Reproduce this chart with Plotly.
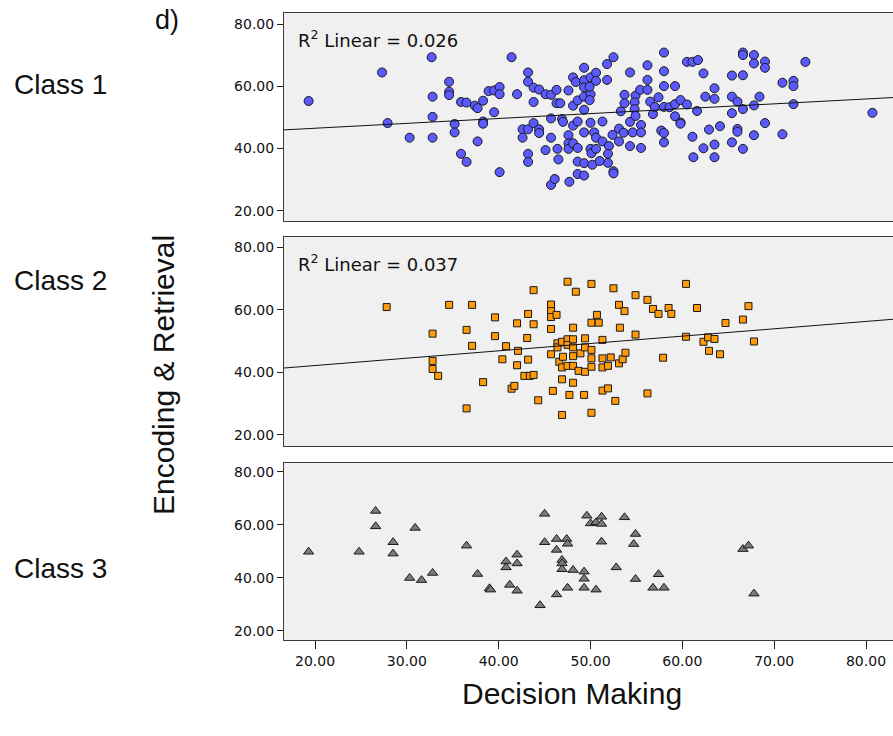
import plotly.graph_objects as go

# ---------------- data ----------------
c1_x = [19.3, 27.3, 27.9, 30.3, 32.7, 32.8, 32.8, 32.8, 34.6, 34.6, 34.6, 35.2, 35.2, 35.9, 35.9, 36.5,
        36.5, 37.4, 37.7, 37.7, 38.3, 38.3, 38.3, 38.9, 39.5, 39.5,
        40.1, 40.1, 40.1, 41.4, 42.0, 42.6, 43.2, 42.6, 43.2, 43.2, 43.2, 43.2, 43.8, 43.8, 43.8, 44.4,
        44.4, 44.4,
        45.1, 45.1, 45.7, 45.7, 45.7, 45.7, 46.1, 46.3, 46.3, 46.4, 46.7, 46.5, 46.9, 47.0, 47.6, 47.6,
        47.6, 47.6, 47.7, 48.1, 48.1, 48.1, 48.1, 48.4, 48.6, 48.6, 48.6, 48.6, 48.6, 49.3, 49.3, 49.3,
        49.3, 49.3, 49.3, 49.3, 49.3,
        50.0, 50.0, 50.6, 50.6, 50.0, 51.3, 50.4, 50.6, 51.3, 50.0, 50.1, 50.6, 52.0, 51.9, 51.9, 50.2,
        51.0, 52.5, 52.5, 51.8, 52.5, 51.8, 53.7, 53.3, 53.1, 53.1, 53.6, 54.3, 54.3, 54.3, 54.6, 54.9,
        54.8, 54.8, 54.9, 49.9, 49.9, 53.7, 52.4,
        55.5, 55.5, 55.5, 55.4, 56.2, 56.2, 56.2, 56.5, 56.8, 57.4, 58.0, 58.0, 58.0, 58.0, 57.7, 58.0,
        58.0, 58.6, 59.2, 59.2, 59.2, 59.8, 59.8, 59.8, 57.0,
        60.5, 60.5, 61.1, 61.7, 62.3, 61.6, 61.1, 61.2, 62.3, 62.9, 63.5, 63.5, 62.5, 63.5, 63.5, 64.1,
        65.4, 65.4, 65.4, 65.4, 66.0, 66.0, 66.0, 66.6, 66.6, 66.6, 66.6, 66.6, 67.8, 67.8, 67.8, 67.8,
        68.4, 69.0, 69.0, 69.0, 70.9, 70.9, 72.1, 72.1, 72.1, 73.4, 80.7]
c1_y = [55.3, 64.5, 48.2, 43.5, 69.4, 56.7, 50.2, 43.5, 61.5, 58.3, 57.2, 47.9, 45.2, 55.0, 38.3, 35.7,
        54.8, 53.8, 53.0, 42.3, 55.4, 48.7, 48.0, 58.5, 58.7, 51.7,
        59.8, 57.5, 32.4, 69.4, 57.5, 46.2, 46.2, 43.5, 64.5, 61.5, 38.3, 35.7, 59.6, 55.0, 48.2, 46.2,
        45.0, 59.0,
        57.5, 39.5, 57.3, 49.7, 43.5, 28.3, 30.2, 58.9, 54.6, 39.9, 54.6, 36.5, 49.5, 48.6, 58.7, 44.3,
        41.7, 39.9, 29.3, 62.9, 53.8, 47.4, 41.7, 61.4, 55.5, 48.7, 40.2, 35.8, 31.8, 66.0, 62.0, 59.7,
        56.7, 52.5, 45.2, 35.3, 31.3,
        62.9, 57.5, 64.4, 61.8, 48.3, 48.7, 45.2, 43.5, 42.3, 39.9, 38.5, 39.9, 40.8, 38.3, 35.4, 34.8,
        36.0, 32.7, 32.0, 67.2, 69.4, 62.1, 57.3, 52.0, 46.4, 42.3, 45.1, 64.5, 48.6, 40.8, 45.2, 57.0,
        54.9, 52.7, 50.5, 59.9, 55.6, 54.6, 44.4,
        47.6, 45.2, 40.2, 58.9, 66.8, 62.1, 58.9, 55.1, 51.1, 56.5, 70.9, 64.9, 60.1, 53.4, 45.8, 45.0,
        42.0, 53.3, 60.1, 54.3, 50.4, 55.6, 48.4, 48.0, 53.4,
        54.2, 67.9, 67.9, 68.5, 64.2, 52.1, 43.8, 37.2, 40.1, 46.1, 59.4, 56.0, 56.7, 41.3, 37.2, 47.2,
        63.5, 56.7, 51.4, 42.0, 55.1, 46.3, 45.4, 70.9, 70.1, 63.6, 52.7, 39.9, 70.1, 67.4, 53.9, 44.3,
        56.7, 68.0, 66.0, 48.2, 61.2, 44.6, 61.8, 60.1, 54.3, 67.9, 51.5]

c2_x = [27.8, 32.8, 32.8, 32.8, 33.4, 34.6, 36.5, 36.5, 37.1, 37.1, 38.3, 39.6, 39.6, 40.4, 40.8, 41.4,
        41.7, 42.0, 42.0, 42.1, 43.1, 43.2, 43.2, 43.8, 43.8, 42.8, 43.4, 43.8, 44.3,
        45.7, 45.7, 45.7, 46.3, 45.7, 45.7, 45.9,
        46.4, 46.4, 46.9, 46.6, 47.0, 46.9, 46.9, 46.9, 47.5, 47.5, 47.5, 48.1, 48.1, 47.5, 48.1, 48.1,
        48.1, 48.1, 47.7, 48.4, 48.7, 48.9, 49.4, 49.4, 49.4, 49.3,
        50.1, 50.1, 50.7, 50.9, 50.1, 50.1, 50.1, 50.1, 51.3, 51.3, 51.3, 51.3, 51.9, 51.9, 52.2, 52.5,
        52.7, 53.1, 53.5, 53.8, 53.1, 53.7, 53.2, 54.9, 54.9, 56.2, 56.8, 57.4, 58.5, 58.8, 60.4, 61.6,
        57.9, 56.2, 60.4, 62.3, 62.8, 63.5, 62.9, 64.1, 64.7, 66.6, 67.2, 67.8]
c2_y = [60.9, 52.4, 43.7, 41.1, 38.9, 61.6, 53.6, 28.5, 61.6, 48.5, 36.9, 57.6, 51.6, 44.2, 48.4, 34.8,
        35.7, 55.7, 42.3, 46.9, 51.0, 58.7, 44.1, 66.3, 55.4, 38.9, 38.9, 39.2, 31.1,
        61.7, 59.6, 57.7, 58.4, 53.9, 45.8, 34.1,
        49.3, 48.0, 49.8, 43.4, 45.0, 41.6, 37.8, 26.4, 69.0, 50.6, 48.8, 50.6, 48.0, 42.1, 54.3, 45.2,
        42.1, 36.7, 32.8, 65.8, 40.5, 46.1, 50.9, 48.0, 40.2, 32.8,
        68.3, 55.9, 58.4, 55.9, 47.2, 44.5, 41.8, 27.1, 50.4, 44.5, 41.6, 34.2, 34.9, 42.1, 44.8, 66.9,
        30.9, 42.9, 44.2, 46.3, 61.6, 59.6, 54.3, 64.7, 52.1, 63.2, 60.3, 58.7, 60.6, 58.7, 68.3, 60.6,
        44.7, 33.3, 51.4, 49.8, 51.2, 50.7, 46.9, 45.8, 55.8, 56.9, 61.2, 49.9]

c3_x = [19.3, 24.8, 26.6, 26.6, 28.5, 28.5, 30.9, 30.3, 31.6, 32.8, 36.5, 37.7, 39.0, 39.1, 40.8, 40.8,
        42.0, 42.0, 41.2, 42.0, 44.5, 45.0, 45.0, 46.3, 46.3, 46.9, 46.9, 46.9, 46.3, 47.4, 47.5, 48.1,
        47.5, 49.3, 49.3, 49.3, 49.6, 50.0, 50.6, 51.2, 51.2, 53.7, 51.2, 54.9, 54.7, 50.6, 52.8, 54.9,
        57.4, 56.8, 58.0, 66.6, 67.2, 67.8]
c3_y = [49.9, 49.9, 65.3, 59.5, 53.5, 49.2, 58.9, 40.0, 39.2, 41.9, 52.2, 41.5, 36.1, 35.6, 46.2, 44.0,
        48.8, 45.5, 37.4, 35.2, 29.7, 64.2, 53.5, 54.7, 50.6, 46.8, 45.5, 43.3, 33.8, 54.7, 52.9, 43.0,
        36.3, 42.4, 39.7, 36.3, 63.5, 60.6, 61.0, 63.1, 60.4, 62.9, 53.7, 56.6, 52.8, 35.6, 44.0, 39.6,
        41.4, 36.3, 36.3, 50.9, 52.2, 34.1]

fit1 = (43.4, 0.157)
fit2 = (37.5, 0.235)
r2_labels = ["0.026", "0.037"]
class_labels = ["Class 1", "Class 2", "Class 3"]
y_ticks = [20, 40, 60, 80]
x_ticks = [20, 30, 40, 50, 60, 70, 80]

# ---------------- figure ----------------
W, H = 893, 736
XR = [16.62, 82.94]
dom_x = [284 / W, 1.0]
doms = [[1 - 220.7 / H, 1 - 12.7 / H], [1 - 446 / H, 1 - 236.7 / H], [1 - 640 / H, 1 - 463.3 / H]]
yranges = [[16.78, 83.73], [16.48, 83.39], [16.6, 83.28]]

fig = go.Figure()
mk_line = dict(color="#1a1a1a", width=1)
fig.add_trace(go.Scatter(x=c1_x, y=c1_y, mode="markers", xaxis="x", yaxis="y",
                         marker=dict(symbol="circle", size=9, color="#5a5aff", line=mk_line)))
fig.add_trace(go.Scatter(x=c2_x, y=c2_y, mode="markers", xaxis="x2", yaxis="y2",
                         marker=dict(symbol="square", size=7, color="#ff9a0a", line=mk_line)))
fig.add_trace(go.Scatter(x=c3_x, y=c3_y, mode="markers", xaxis="x3", yaxis="y3",
                         marker=dict(symbol="triangle-up", size=9, color="#7b7b7b", line=mk_line)))

for fit, xa, ya in [(fit1, "x", "y"), (fit2, "x2", "y2")]:
    a, b = fit
    fig.add_trace(go.Scatter(x=XR, y=[a + b * v for v in XR], mode="lines", xaxis=xa, yaxis=ya,
                             line=dict(color="#111111", width=1), hoverinfo="skip"))

tickfont = dict(family="DejaVu Sans", size=14, color="#111111")
axline = dict(showline=True, linecolor="#3a3a3a", linewidth=1, mirror=True, zeroline=False,
              showgrid=False, automargin=False)

for i in range(3):
    sfx = "" if i == 0 else str(i + 1)
    last = i == 2
    fig.layout["xaxis" + sfx] = dict(
        domain=dom_x, range=XR, anchor="y" + sfx, **axline,
        ticks="outside" if last else "", ticklen=8, tickcolor="#222222",
        tickvals=x_ticks, ticktext=[f"{v:.2f}" for v in x_ticks],
        showticklabels=last, tickfont=tickfont)
    fig.layout["yaxis" + sfx] = dict(
        domain=doms[i], range=yranges[i], anchor="x" + sfx, **axline,
        ticks="outside", ticklen=6, tickcolor="#222222",
        tickvals=y_ticks, ticktext=[f"{v:.2f}" for v in y_ticks], tickfont=tickfont)

ann = []
# R² labels
for i, r2 in enumerate(r2_labels):
    sfx = "" if i == 0 else str(i + 1)
    ann.append(dict(xref="x" + sfx + " domain", yref="y" + sfx + " domain",
                    x=0.02, y=0.94, xanchor="left", yanchor="top", showarrow=False,
                    text=f"R<sup>2</sup> Linear = {r2}",
                    font=dict(family="DejaVu Sans", size=18, color="#111111")))
big = dict(family="Liberation Sans, Arial", color="#111111")
class_y = [85, 280, 568]
for lab, cy in zip(class_labels, class_y):
    ann.append(dict(xref="paper", yref="paper", x=60 / W, y=1 - cy / H, xanchor="center",
                    yanchor="middle", showarrow=False, text=lab, font=dict(size=28, **big)))
ann.append(dict(xref="paper", yref="paper", x=167 / W, y=1 - 20 / H, xanchor="center",
                yanchor="middle", showarrow=False, text="d)", font=dict(size=27, **big)))
ann.append(dict(xref="paper", yref="paper", x=163 / W, y=1 - 375 / H, xanchor="center",
                yanchor="middle", showarrow=False, text="Encoding &amp; Retrieval", textangle=-90,
                font=dict(size=30, **big)))
ann.append(dict(xref="paper", yref="paper", x=572 / W, y=1 - 693 / H, xanchor="center",
                yanchor="middle", showarrow=False, text="Decision Making",
                font=dict(size=30, **big)))

fig.update_layout(width=W, height=H, autosize=False, template="none",
                  margin=dict(l=0, r=0, t=0, b=0), paper_bgcolor="white",
                  plot_bgcolor="#f0f0f0", showlegend=False, annotations=ann)

fig.write_html("out.html")
